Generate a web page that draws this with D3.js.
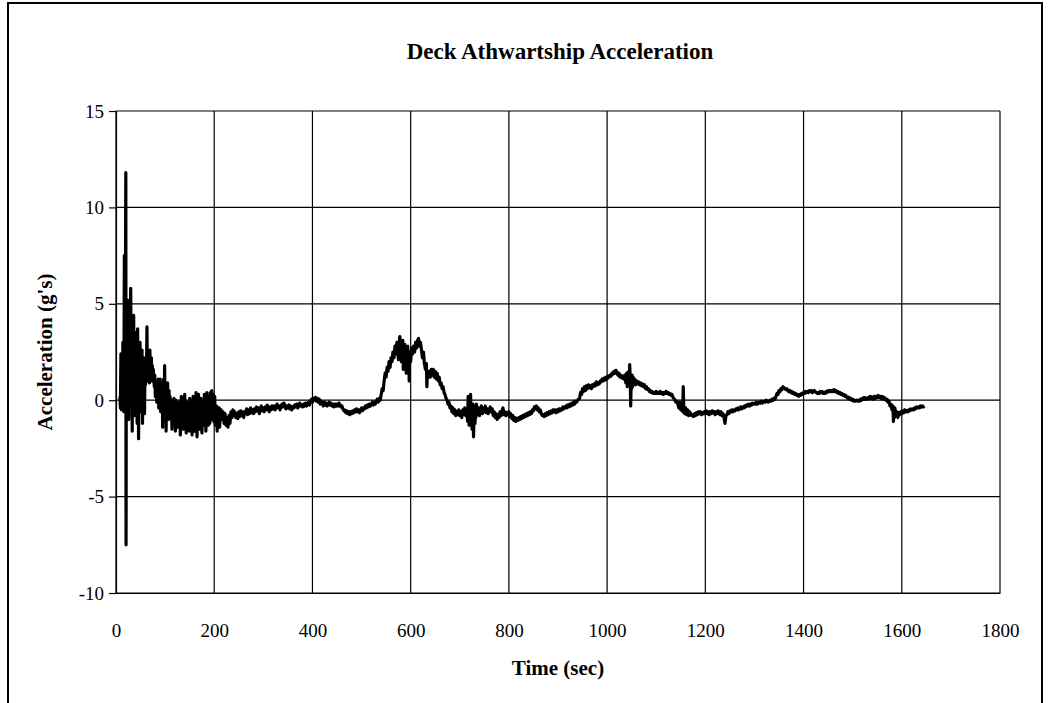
<!DOCTYPE html>
<html>
<head>
<meta charset="utf-8">
<script src="https://cdn.jsdelivr.net/npm/d3@7"></script>
<style>
  html, body { margin: 0; padding: 0; background: #fff; }
  svg { display: block; }
  text { font-family: "Liberation Serif", "Times New Roman", serif; fill: #000; }
</style>
</head>
<body>
<svg id="chart" width="1053" height="703"></svg>
<script>
// ---- tick labels ----
const xTicks = [0, 200, 400, 600, 800, 1000, 1200, 1400, 1600, 1800];
const yTicks = [-10, -5, 0, 5, 10, 15];
const titleText = "Deck Athwartship Acceleration";
const xLabel = "Time (sec)";
const yLabel = "Acceleration (g's)";

// ---- series: [time (sec), acceleration (g's)] ----
const burst = [
 [8,0.2],[9,-0.4],[10,2.4],[11,-0.5],[12,1.8],[13,-0.3],[14,3.0],[15,0.5],[16,-0.6],[17,7.5],
 [18,-0.2],[19,4.2],[20,11.8],[20.5,-7.5],[21,3.5],[22,-0.4],[23,5.2],[24,0.8],[25,4.8],[26,-1.0],
 [27,3.2],[28,0.2],[29,4.6],[30,5.8],[31,0.4],[32,4.1],[33,-1.6],[34,3.4],[35,1.0],[36,4.4],
 [37,-0.8],[38,2.6],[39,0.6],[40,3.5],[41,-0.2],[42,2.8],[43,-1.2],[44,3.7],[45,1.2],[46,-2.0],
 [47,2.4],[48,0.5],[49,3.0],[50,-0.6],[51,1.8],[52,0.2],[53,2.6],[54,-1.2],[55,1.5],[56,0.6],
 [57,2.2],[58,-0.7],[59,1.4],[60,0.8],[61,2.0],[62,1.2],[63,3.8],[64,1.0],[65,2.6],[66,1.4],
 [67,2.0],[68,0.9],[69,2.6],[70,1.3],[72,2.2],[73,1.0],[74,1.8],[75,1.1],[76,1.6],[78,0.7],
 [79,1.3],[80,0.2],[82,0.9],[83,-0.1],[84,0.8],[85,0.0],[86,1.1],[87,-0.4],[88,0.6],[89,-0.2],
 [90,1.1],[91,-0.6],[92,0.5],[93,0.0],[94,0.8],[95,-1.4],[96,0.3],[97,1.1],[98,-0.8],[99,1.8],
 [100,-0.3],[101,0.6],[102,-1.6],[103,0.4],[104,-0.5],[105,0.9],[106,-0.2],[107,-1.0],[108,0.5],[109,-0.6]
];
const settle = [
 [110,0.2],[112,-0.9],[113,-0.3],[114,-1.5],[115,0.0],[116,-0.8],[118,0.1],[119,-1.1],[120,-0.4],[121,-1.6],
 [122,0.0],[124,-0.9],[125,-0.2],[126,-1.4],[127,-0.5],[128,-0.1],[129,-1.0],[130,-0.3],[131,-1.8],[132,-0.6],
 [133,0.2],[134,-0.8],[135,-1.2],[136,-0.2],[137,-1.5],[138,-0.4],[140,0.3],[141,-1.0],[142,-0.5],[143,-1.7],
 [144,-0.6],[145,-0.1],[146,-1.2],[148,-0.7],[149,-1.6],[150,0.1],[151,-0.9],[152,-0.4],[153,-1.4],[154,-0.8],
 [155,-1.8],[156,-0.5],[157,0.2],[158,-1.1],[159,-0.6],[160,-1.6],[161,-0.3],[162,-1.0],[163,0.4],[164,-0.8],
 [165,-1.9],[166,-0.6],[167,-1.2],[168,0.3],[169,-0.7],[170,-1.5],[171,-0.4],[172,-1.1],[173,0.1],[174,-0.9],
 [175,-1.7],[176,-0.5],[177,-0.2],[178,-1.3],[179,-0.6],[180,0.3],[181,-1.0],[182,-0.4],[183,-1.6],[184,-0.7],
 [185,0.4],[186,-0.8],[187,-0.3],[188,-1.3],[189,0.2],[190,-0.6],[191,-1.2],[192,0.4],[193,-0.4],[194,-1.0],
 [195,0.5],[196,-0.2],[197,-0.9],[198,0.3],[199,-1.1],[200,-0.2],[201,0.2],[202,-1.3],[203,-0.5],[204,-1.0],
 [205,-0.3],[206,-1.6],[207,-0.6],[208,-1.1],[210,-0.4],[211,-1.4],[212,-0.8],[214,-0.5],[216,-1.0],[218,-0.6],
 [220,-1.2],[222,-0.7],[224,-1.3],[226,-0.9],[228,-1.4],[230,-0.8],[232,-1.2],[234,-0.6],[236,-0.9],[238,-0.5]
];
const drift1 = [
 [240,-0.8],[242,-0.6],[244,-0.9],[246,-0.7],[248,-0.95],[250,-0.6],[252,-0.85],[254,-0.55],[256,-0.8],[258,-0.6],
 [260,-0.9],[262,-0.6],[264,-0.7],[266,-0.45],[268,-0.75],[270,-0.5],[272,-0.7],[274,-0.4],[276,-0.65],[278,-0.5],
 [280,-0.7],[282,-0.45],[284,-0.6],[286,-0.35],[288,-0.55],[290,-0.4],[292,-0.7],[294,-0.45],[296,-0.3],[298,-0.55],
 [300,-0.4],[302,-0.6],[304,-0.35],[306,-0.5],[308,-0.25],[310,-0.45],[312,-0.6],[314,-0.35],[316,-0.5],[318,-0.3],
 [320,-0.45],[322,-0.3],[324,-0.5],[326,-0.35],[328,-0.2],[330,-0.4],[332,-0.3],[334,-0.5],[336,-0.35],[338,-0.2],
 [340,-0.35],[342,-0.15],[344,-0.3],[346,-0.45],[348,-0.3],[350,-0.4],[352,-0.25],[354,-0.45],[356,-0.3],[358,-0.5],
 [360,-0.35],[362,-0.4],[364,-0.25],[366,-0.35],[368,-0.2],[370,-0.4],[372,-0.3],[374,-0.15],[376,-0.3],[378,-0.25],
 [380,-0.35],[382,-0.2],[384,-0.3],[386,-0.15],[388,-0.3],[390,-0.2],[392,-0.1],[394,-0.25],[396,-0.05],[398,0.05],
 [400,-0.1],[402,0.1],[404,0.0],[406,0.15],[408,-0.05],[410,0.1],[412,-0.1],[414,0.05],[416,-0.2],[418,-0.05],
 [420,-0.15],[422,-0.3],[424,-0.1],[426,-0.25],[428,-0.15],[430,-0.3],[432,-0.2],[434,-0.1],[436,-0.25],[438,-0.15],
 [440,-0.3],[442,-0.2],[444,-0.35],[446,-0.2],[448,-0.3],[450,-0.2],[452,-0.3],[454,-0.15],[456,-0.25],[458,-0.35],
 [460,-0.3],[462,-0.45],[464,-0.55],[466,-0.5],[468,-0.65],[470,-0.55],[472,-0.7],[474,-0.6],[476,-0.75],[478,-0.6],
 [480,-0.7],[482,-0.55],[484,-0.65],[486,-0.5],[488,-0.6],[490,-0.45],[492,-0.6],[494,-0.5],[496,-0.65],[498,-0.5],
 [500,-0.4],[502,-0.55],[504,-0.4],[506,-0.45],[508,-0.3],[510,-0.4],[512,-0.25],[514,-0.35],[516,-0.2],[518,-0.3],
 [520,-0.2],[522,-0.1],[524,-0.25],[526,-0.1],[528,-0.2],[530,-0.05],[532,0.05],[534,-0.1],[536,0.1],[538,0.0]
];
const hump1 = [
 [540,0.3],[542,0.6],[544,0.5],[546,1.0],[548,1.4],[550,1.2],[552,1.7],[554,1.5],[556,2.0],[558,1.7],
 [560,2.2],[562,2.0],[564,2.5],[566,2.2],[568,2.8],[570,2.4],[572,3.0],[574,2.5],[575,2.1],[576,2.9],
 [578,3.3],[579,2.4],[580,3.1],[581,2.0],[582,2.9],[583,2.3],[584,3.1],[585,1.6],[586,2.7],[587,2.2],
 [588,2.9],[589,1.9],[590,2.6],[591,1.4],[592,2.4],[593,2.0],[594,2.8],[595,1.7],[596,2.3],[597,1.0],
 [598,2.5],[600,2.0],[602,2.7],[604,2.4],[606,2.8],[608,2.5],[610,3.0],[612,2.7],[614,3.1],[616,3.2],
 [618,2.8],[620,3.0],[622,2.6],[624,2.2],[626,2.5],[628,1.9],[630,1.6],[632,1.9],[633,0.7],[634,1.5],
 [636,1.2],[638,1.5],[640,1.2],[642,1.6],[644,1.3],[646,1.6],[648,1.2],[650,1.5],[652,1.1],[654,1.4],
 [656,1.0],[658,1.2],[660,0.8],[662,0.9],[664,0.6],[666,0.7],[668,0.4],[670,0.3],[672,0.1],[674,0.0],
 [676,-0.2],[678,-0.1],[680,-0.4],[682,-0.3],[684,-0.6],[686,-0.4],[688,-0.7],[690,-0.5],[692,-0.8],[694,-0.6],
 [696,-0.75],[698,-0.5],[700,-0.8],[702,-0.6],[704,-0.9],[706,-0.5],[708,-0.75],[710,-0.4],[712,-0.8],[714,-0.55],
 [716,-1.1],[717,0.2],[718,-0.7],[719,-1.3],[720,-0.3],[721,-0.9],[722,0.3],[723,-1.0],[724,-0.4],[725,-1.5],
 [726,-0.6],[727,-0.2],[728,-1.9],[729,-0.8],[730,-0.3],[731,-1.2],[732,-0.5],[733,-0.9],[734,-0.2],[736,-0.7]
];
const drift2 = [
 [738,-0.4],[740,-0.8],[742,-0.5],[744,-0.3],[746,-0.7],[748,-0.4],[750,-0.6],[752,-0.3],[754,-0.65],[756,-0.45],
 [758,-0.7],[760,-0.5],[762,-0.35],[764,-0.6],[766,-0.45],[768,-0.8],[770,-0.6],[772,-0.9],[774,-0.7],[776,-1.0],
 [778,-0.75],[780,-0.9],[782,-0.6],[784,-0.8],[786,-0.55],[788,-0.4],[790,-0.75],[792,-0.6],[794,-0.8],[796,-0.65],
 [798,-0.75],[800,-0.6],[802,-0.85],[804,-0.7],[806,-0.95],[808,-0.8],[810,-1.05],[812,-0.9],[814,-1.1],[816,-0.95],
 [818,-1.05],[820,-0.9],[822,-1.0],[824,-0.85],[826,-0.95],[828,-0.8],[830,-0.9],[832,-0.75],[834,-0.85],[836,-0.7],
 [838,-0.8],[840,-0.65],[842,-0.75],[844,-0.6],[846,-0.7],[848,-0.5],[850,-0.55],[852,-0.35],[854,-0.45],[856,-0.3],
 [858,-0.5],[860,-0.4],[862,-0.6],[864,-0.5],[866,-0.7],[868,-0.8],[870,-0.75],[872,-0.85],[874,-0.7],[876,-0.8],
 [878,-0.65],[880,-0.75],[882,-0.6],[884,-0.7],[886,-0.55],[888,-0.65],[890,-0.5],[892,-0.6],[894,-0.5],[896,-0.65],
 [898,-0.5],[900,-0.6],[902,-0.45],[904,-0.55],[906,-0.45],[908,-0.5],[910,-0.35],[912,-0.45],[914,-0.4],[916,-0.3],
 [918,-0.4],[920,-0.25],[922,-0.35],[924,-0.2],[926,-0.3],[928,-0.15],[930,-0.25],[932,-0.1],[934,-0.2],[936,-0.05],
 [938,-0.1],[940,0.0],[942,0.05],[944,0.1]
];
const hump2 = [
 [946,0.4],[948,0.3],[950,0.6],[952,0.45],[954,0.7],[956,0.5],[958,0.75],[960,0.6],[962,0.8],[964,0.65],
 [966,0.75],[968,0.6],[970,0.8],[972,0.7],[974,0.85],[976,0.75],[978,0.95],[980,0.8],[982,0.9],[984,0.85],
 [986,1.0],[988,0.95],[990,1.1],[992,1.0],[994,1.15],[996,1.05],[998,1.2],[1000,1.1],[1002,1.25],[1004,1.2],
 [1006,1.3],[1008,1.25],[1010,1.4],[1012,1.35],[1014,1.5],[1016,1.4],[1018,1.55],[1020,1.45],[1022,1.3],[1024,1.4],
 [1026,1.2],[1028,1.3],[1030,1.15],[1032,1.25],[1034,1.1],[1036,1.3],[1038,0.9],[1040,1.4],[1041,0.7],[1042,1.2],
 [1043,0.9],[1044,1.5],[1045,0.8],[1046,1.85],[1047,1.2],[1048,-0.3],[1049,1.0],[1050,0.6],[1051,1.3],[1052,0.7],
 [1053,1.2],[1054,0.9],[1056,1.1],[1058,0.8],[1060,1.0],[1062,0.85],[1064,0.95],[1066,0.8],[1068,0.9],[1070,0.75],
 [1072,0.85],[1074,0.7],[1076,0.8],[1078,0.6],[1080,0.7],[1082,0.55],[1084,0.6],[1086,0.45],[1088,0.5],[1090,0.4],
 [1092,0.45],[1094,0.35],[1096,0.4],[1098,0.35],[1100,0.45],[1102,0.35],[1104,0.4],[1106,0.35],[1108,0.45],[1110,0.35],
 [1112,0.4],[1114,0.3],[1116,0.4],[1118,0.35],[1120,0.45],[1122,0.35],[1124,0.4],[1126,0.3],[1128,0.35],[1130,0.25],
 [1132,0.3],[1134,0.15],[1136,0.1],[1138,0.0],[1140,-0.1],[1142,-0.05],[1144,-0.2],[1146,-0.4],[1148,-0.1],[1150,-0.5],
 [1152,-0.2],[1154,-0.6],[1155,0.7],[1156,-0.3],[1158,-0.7],[1160,-0.4],[1162,-0.75],[1164,-0.5],[1166,-0.8],[1168,-0.6]
];
const drift3 = [
 [1170,-0.7],[1172,-0.8],[1174,-0.75],[1176,-0.85],[1178,-0.7],[1180,-0.8],[1182,-0.65],[1184,-0.75],[1186,-0.6],[1188,-0.7],
 [1190,-0.6],[1192,-0.75],[1194,-0.65],[1196,-0.7],[1198,-0.6],[1200,-0.7],[1202,-0.55],[1204,-0.7],[1206,-0.6],[1208,-0.75],
 [1210,-0.6],[1212,-0.7],[1214,-0.55],[1216,-0.65],[1218,-0.6],[1220,-0.75],[1222,-0.6],[1224,-0.7],[1226,-0.55],[1228,-0.65],
 [1230,-0.75],[1232,-0.6],[1234,-0.8],[1236,-0.7],[1238,-0.9],[1240,-1.2],[1242,-0.8],[1244,-0.75],[1246,-0.6],[1248,-0.7],
 [1250,-0.55],[1252,-0.6],[1254,-0.5],[1256,-0.6],[1258,-0.5],[1260,-0.55],[1262,-0.45],[1264,-0.5],[1266,-0.4],[1268,-0.5],
 [1270,-0.45],[1272,-0.35],[1274,-0.45],[1276,-0.35],[1278,-0.4],[1280,-0.3],[1282,-0.35],[1284,-0.25],[1286,-0.3],[1288,-0.2],
 [1290,-0.3],[1292,-0.2],[1294,-0.25],[1296,-0.15],[1298,-0.2],[1300,-0.15],[1302,-0.2],[1304,-0.1],[1306,-0.2],[1308,-0.15],
 [1310,-0.1],[1312,-0.15],[1314,-0.05],[1316,-0.15],[1318,-0.1],[1320,-0.05],[1322,-0.1],[1324,0.0],[1326,-0.05],[1328,-0.1],
 [1330,-0.05],[1332,0.0],[1334,-0.05],[1336,0.05],[1338,0.0],[1340,0.1],[1342,0.05],[1344,0.2]
];
const tail = [
 [1346,0.35],[1348,0.3],[1350,0.5],[1352,0.45],[1354,0.6],[1356,0.55],[1358,0.7],[1360,0.65],[1362,0.6],[1364,0.55],
 [1366,0.6],[1368,0.5],[1370,0.45],[1372,0.5],[1374,0.4],[1376,0.45],[1378,0.35],[1380,0.4],[1382,0.3],[1384,0.35],
 [1386,0.25],[1388,0.3],[1390,0.2],[1392,0.3],[1394,0.25],[1396,0.35],[1398,0.3],[1400,0.4],[1402,0.35],[1404,0.45],
 [1406,0.4],[1408,0.45],[1410,0.4],[1412,0.5],[1414,0.45],[1416,0.5],[1418,0.4],[1420,0.45],[1422,0.5],[1424,0.45],
 [1426,0.4],[1428,0.35],[1430,0.4],[1432,0.35],[1434,0.45],[1436,0.4],[1438,0.45],[1440,0.35],[1442,0.4],[1444,0.35],
 [1446,0.45],[1448,0.4],[1450,0.5],[1452,0.45],[1454,0.5],[1456,0.45],[1458,0.5],[1460,0.45],[1462,0.55],[1464,0.45],
 [1466,0.5],[1468,0.4],[1470,0.45],[1472,0.35],[1474,0.4],[1476,0.3],[1478,0.35],[1480,0.25],[1482,0.3],[1484,0.2],
 [1486,0.25],[1488,0.15],[1490,0.1],[1492,0.15],[1494,0.05],[1496,0.1],[1498,0.0],[1500,0.05],[1502,-0.05],[1504,0.0],
 [1506,-0.05],[1508,0.0],[1510,-0.05],[1512,0.0],[1514,-0.05],[1516,0.05],[1518,0.0],[1520,0.1],[1522,0.05],[1524,0.15],
 [1526,0.05],[1528,0.1],[1530,0.05],[1532,0.15],[1534,0.1],[1536,0.2],[1538,0.1],[1540,0.15],[1542,0.05],[1544,0.2],
 [1546,0.1],[1548,0.2],[1550,0.15],[1552,0.25],[1554,0.15],[1556,0.2],[1558,0.1],[1560,0.2],[1562,0.05],[1564,0.15],
 [1566,0.1],[1568,0.0],[1570,0.05],[1572,-0.1],[1574,-0.05],[1576,-0.3],[1578,-0.2],[1580,-0.5],[1582,-0.3],[1583,-1.1],
 [1584,-0.5],[1585,-0.9],[1586,-0.4],[1588,-0.8],[1590,-0.6],[1592,-0.9],[1594,-0.65],[1596,-0.75],[1598,-0.6],[1600,-0.7],
 [1602,-0.55],[1604,-0.65],[1606,-0.5],[1608,-0.6],[1610,-0.55],[1612,-0.6],[1614,-0.5],[1616,-0.55],[1618,-0.45],[1620,-0.5],
 [1622,-0.45],[1624,-0.5],[1626,-0.4],[1628,-0.45],[1630,-0.35],[1632,-0.4],[1634,-0.35],[1636,-0.4],[1638,-0.3],[1640,-0.35],
 [1642,-0.3],[1644,-0.35],[1646,-0.3]
];

const series = [].concat(burst, settle, drift1, hump1, drift2, hump2, drift3, tail);

// ---- layout ----
const plot = { left: 116, right: 1000, top: 111, bottom: 593 };
const fontStack = '"Liberation Serif", "Times New Roman", serif';
const tickFmt = d => String(d); // plain hyphen-minus as in the original

const svg = d3.select("#chart");

// outer frame
svg.append("rect")
  .attr("x", 8).attr("y", 3)
  .attr("width", 1034).attr("height", 720)
  .attr("fill", "none").attr("stroke", "#000").attr("stroke-width", 2);

const x = d3.scaleLinear().domain([0, 1800]).range([plot.left, plot.right]);
const y = d3.scaleLinear().domain([-10, 15]).range([plot.bottom, plot.top]);

// gridlines
const g = svg.append("g");
g.selectAll("line.vg").data(xTicks).enter().append("line")
  .attr("x1", d => x(d)).attr("x2", d => x(d))
  .attr("y1", plot.top).attr("y2", plot.bottom)
  .attr("stroke", "#000").attr("stroke-width", 1.2);
g.selectAll("line.hg").data(yTicks).enter().append("line")
  .attr("x1", plot.left).attr("x2", plot.right)
  .attr("y1", d => y(d)).attr("y2", d => y(d))
  .attr("stroke", "#000").attr("stroke-width", 1.2);

// y axis (ticks outward + labels)
const yAxis = d3.axisLeft(y).tickValues(yTicks).tickSize(7).tickPadding(5).tickFormat(tickFmt);
const yg = svg.append("g").attr("transform", `translate(${plot.left},0)`).call(yAxis);
yg.select(".domain").attr("stroke", "#000").attr("stroke-width", 1.2);
yg.selectAll(".tick line").attr("stroke", "#000").attr("stroke-width", 1.2);
yg.selectAll(".tick text")
  .style("font-family", fontStack)
  .style("font-size", "19px").attr("fill", "#000");

// x axis labels
const xAxis = d3.axisBottom(x).tickValues(xTicks).tickSize(0).tickPadding(31).tickFormat(tickFmt);
const xg = svg.append("g").attr("transform", `translate(0,${plot.bottom})`).call(xAxis);
xg.select(".domain").attr("stroke", "#000").attr("stroke-width", 1.2);
xg.selectAll(".tick text")
  .style("font-family", fontStack)
  .style("font-size", "19px").attr("fill", "#000");

// data line
const line = d3.line().x(d => x(d[0])).y(d => y(d[1]));
svg.append("path")
  .datum(series)
  .attr("d", line)
  .attr("fill", "none")
  .attr("stroke", "#000")
  .attr("stroke-width", 3.2)
  .attr("stroke-linejoin", "round");

// titles
svg.append("text")
  .attr("x", (plot.left + plot.right) / 2 + 2).attr("y", 59)
  .attr("text-anchor", "middle")
  .style("font-size", "23px").style("font-weight", "bold")
  .text(titleText);

svg.append("text")
  .attr("x", (plot.left + plot.right) / 2).attr("y", 675)
  .attr("text-anchor", "middle")
  .style("font-size", "21px").style("font-weight", "bold")
  .text(xLabel);

svg.append("text")
  .attr("transform", `translate(52,${(plot.top + plot.bottom) / 2}) rotate(-90)`)
  .attr("text-anchor", "middle")
  .style("font-size", "21px").style("font-weight", "bold")
  .text(yLabel);
</script>
</body>
</html>
